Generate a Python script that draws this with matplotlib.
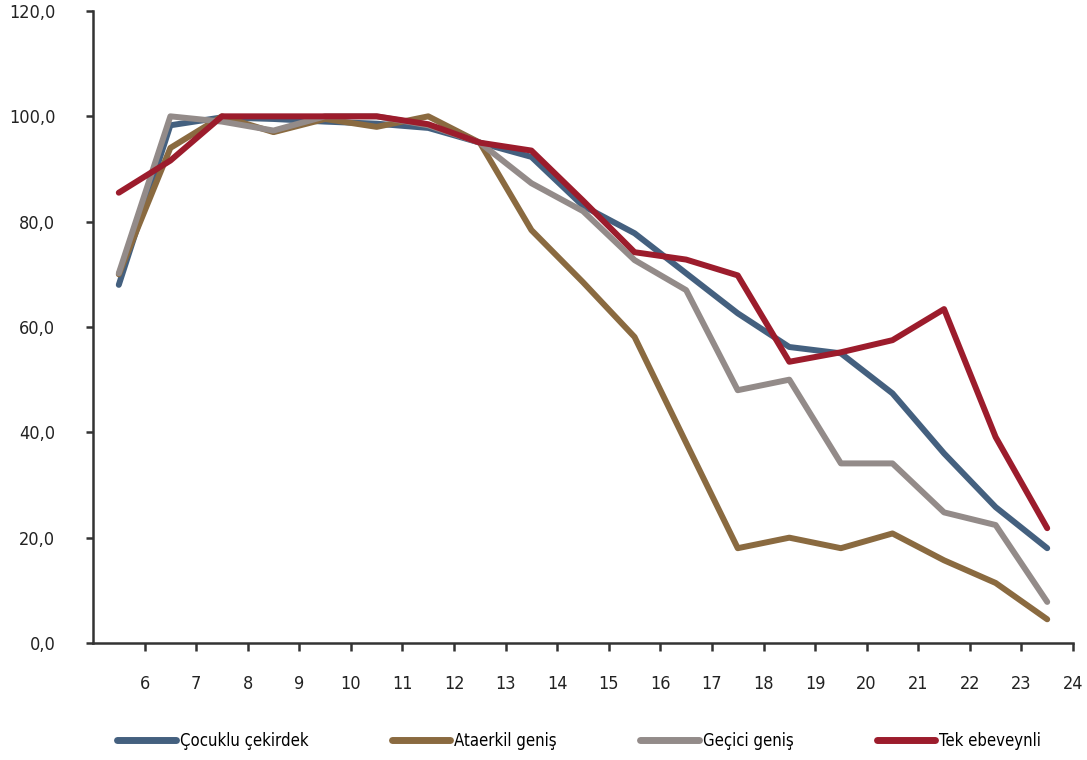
import matplotlib
matplotlib.use("Agg")
import matplotlib.pyplot as plt
import numpy as np

plt.rcParams['font.family'] = ['DejaVu Sans']
plt.rcParams['font.stretch'] = 'condensed'

x_labels = [str(v) for v in range(6, 25)]
ages = [5.5, 6.5, 7.5, 8.5, 9.5, 10.5, 11.5, 12.5, 13.5, 14.5, 15.5, 16.5,
        17.5, 18.5, 19.5, 20.5, 21.5, 22.5, 23.5]

cocuklu = [68.0, 98.3, 99.8, 99.5, 99.0, 98.6, 97.8, 95.0, 92.3, 83.0, 77.8,
           70.2, 62.6, 56.2, 55.0, 47.4, 36.0, 25.8, 18.0]
ataerkil = [70.0, 94.0, 100.0, 97.0, 99.5, 98.0, 100.0, 95.0, 78.4, 68.5, 58.1,
            38.0, 18.0, 20.0, 18.0, 20.8, 15.7, 11.4, 4.5]
gecici = [70.2, 100.0, 99.0, 97.3, 100.0, 100.0, 98.3, 95.0, 87.3, 82.0, 72.7,
          67.0, 48.0, 50.0, 34.1, 34.1, 24.8, 22.4, 7.8]
tek = [85.5, 91.6, 100.0, 100.0, 100.0, 100.0, 98.5, 95.0, 93.5, 84.0, 74.2,
       72.8, 69.8, 53.4, 55.2, 57.5, 63.4, 39.1, 21.8]

series_names = ["Çocuklu çekirdek", "Ataerkil geniş", "Geçici geniş", "Tek ebeveynli"]
series_vals = [cocuklu, ataerkil, gecici, tek]
colors = ["#44607f", "#8a6a40", "#938b89", "#9c1c2c"]

y_ticks = [0, 20, 40, 60, 80, 100, 120]

fig = plt.figure(figsize=(10.87, 7.6), dpi=100)
ax = fig.add_axes([93/1087, (760-643)/760, (1073-93)/1087, (643-11)/760])

for name, vals, c in zip(series_names, series_vals, colors):
    ax.plot(ages, vals, color=c, lw=4.3, label=name,
            solid_capstyle='round', solid_joinstyle='round')

ax.set_xlim(5, 24)
ax.set_ylim(0, 120)
ax.set_xticks(range(6, 25))
ax.set_xticklabels(x_labels)
ax.set_yticks(y_ticks)
ax.set_yticklabels([f"{v:.1f}".replace('.', ',') for v in y_ticks])

for s in ['top', 'right']:
    ax.spines[s].set_visible(False)
for s in ['left', 'bottom']:
    ax.spines[s].set_linewidth(1.8)
    ax.spines[s].set_color('#333333')

ax.tick_params(axis='x', direction='out', length=6, width=1.8, color='#333333',
               pad=17, labelsize=13, labelcolor='#222222')
ax.tick_params(axis='y', direction='out', length=5, width=1.8, color='#333333',
               pad=22, labelsize=13, labelcolor='#222222')

leg = fig.legend(loc='center', bbox_to_anchor=(0.533, 1 - 741/760), ncol=4,
                 frameon=False, fontsize=12, handlelength=3.5, handletextpad=0.25,
                 columnspacing=5.0)
for line in leg.get_lines():
    line.set_linewidth(5)
    line.set_solid_capstyle('round')

fig.savefig("out.png", dpi=100)
